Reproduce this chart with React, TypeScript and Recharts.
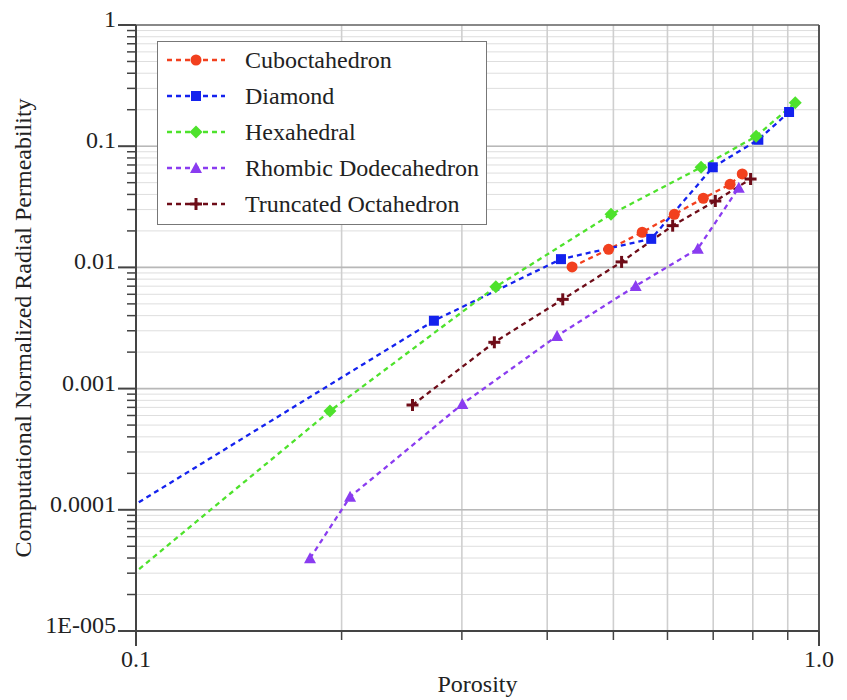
import React from "react";
import {
  LineChart,
  Line,
  XAxis,
  YAxis,
  CartesianGrid,
  ReferenceLine,
} from "recharts";

const FONT = '"Liberation Serif", "Times New Roman", serif';

// log axes: decade ticks carry labels, the rest are minor marks
const decades = [0.00001, 0.0001, 0.001, 0.01, 0.1, 1];
const decadeLabels = ["1E-005", "0.0001", "0.001", "0.01", "0.1", "1"];
const yTicks = decades
  .slice(0, -1)
  .flatMap((d) => [1, 2, 3, 4, 5, 6, 7, 8, 9].map((m) => +(m * d).toPrecision(3)))
  .concat([1]);
const xTicks = [0.1, 0.2, 0.3, 0.4, 0.5, 0.6, 0.7, 0.8, 0.9, 1.0];
const xTickLabels = ["0.1", "1.0"];

// porosity vs permeability for each unit cell
const cuboPorosity = [0.435, 0.492, 0.551, 0.614, 0.677, 0.741, 0.772];
const cuboPerm = [0.0101, 0.0141, 0.0195, 0.0274, 0.0372, 0.0485, 0.059];

const diamondPorosity = [0.08, 0.273, 0.419, 0.568, 0.699, 0.815, 0.904];
const diamondPerm = [0.0000515, 0.00363, 0.0117, 0.0172, 0.067, 0.113, 0.1915];

const hexaPorosity = [0.08, 0.1923, 0.3364, 0.496, 0.672, 0.809, 0.923];
const hexaPerm = [0.0000109, 0.000653, 0.00693, 0.0274, 0.067, 0.1207, 0.2286];

const rhombicPorosity = [0.1798, 0.2058, 0.3005, 0.4135, 0.539, 0.6646, 0.763];
const rhombicPerm = [0.0000398, 0.000128, 0.000746, 0.00272, 0.00703, 0.01426, 0.0455];

const truncPorosity = [0.254, 0.3347, 0.4215, 0.514, 0.6106, 0.705, 0.794];
const truncPerm = [0.000732, 0.00241, 0.00545, 0.0111, 0.0221, 0.0353, 0.0536];

const zip = (xs: number[], ys: number[]) => xs.map((x, i) => ({ x, y: ys[i] }));

type Shape = "circle" | "square" | "diamond" | "triangle" | "cross";

const series: { name: string; color: string; shape: Shape; data: { x: number; y: number }[] }[] = [
  { name: "Cuboctahedron", color: "#f2401e", shape: "circle", data: zip(cuboPorosity, cuboPerm) },
  { name: "Diamond", color: "#1422ee", shape: "square", data: zip(diamondPorosity, diamondPerm) },
  { name: "Hexahedral", color: "#4ee22c", shape: "diamond", data: zip(hexaPorosity, hexaPerm) },
  { name: "Rhombic Dodecahedron", color: "#8a3cf0", shape: "triangle", data: zip(rhombicPorosity, rhombicPerm) },
  { name: "Truncated Octahedron", color: "#6e0c18", shape: "cross", data: zip(truncPorosity, truncPerm) },
];

const Marker = ({ cx, cy, color, shape }: { cx: number; cy: number; color: string; shape: Shape }) => {
  switch (shape) {
    case "circle":
      return <circle cx={cx} cy={cy} r={5.5} fill={color} />;
    case "square":
      return <rect x={cx - 5} y={cy - 5} width={10} height={10} fill={color} />;
    case "diamond":
      return (
        <polygon
          points={`${cx},${cy - 6.5} ${cx + 6.5},${cy} ${cx},${cy + 6.5} ${cx - 6.5},${cy}`}
          fill={color}
        />
      );
    case "triangle":
      return (
        <polygon
          points={`${cx},${cy - 6} ${cx + 6},${cy + 5} ${cx - 6},${cy + 5}`}
          fill={color}
        />
      );
    default:
      return (
        <g stroke={color} strokeWidth={3}>
          <line x1={cx - 6} x2={cx + 6} y1={cy} y2={cy} />
          <line x1={cx} x2={cx} y1={cy - 6} y2={cy + 6} />
        </g>
      );
  }
};

const YTick = ({ x, y, payload }: any) => {
  const v = payload.value;
  const i = decades.findIndex((d) => Math.abs(d - v) / d < 1e-6);
  if (i < 0) {
    return <line x1={x - 9} x2={x} y1={y} y2={y} stroke="#444" strokeWidth={1.5} />;
  }
  return (
    <g>
      <line x1={x - 18} x2={x} y1={y} y2={y} stroke="#444" strokeWidth={2} />
      <text x={x - 20} y={y + 2} textAnchor="end" fontFamily={FONT} fontSize={24} fill="#222">
        {decadeLabels[i]}
      </text>
    </g>
  );
};

const XTick = ({ x, y, payload }: any) => {
  const v = payload.value;
  const end = v === 0.1 ? 0 : v === 1 ? 1 : -1;
  if (end < 0) {
    return <line x1={x} x2={x} y1={y} y2={y + 9} stroke="#444" strokeWidth={1.5} />;
  }
  return (
    <g>
      <line x1={x} x2={x} y1={y} y2={y + 15} stroke="#444" strokeWidth={2} />
      <text x={x} y={y + 36} textAnchor="middle" fontFamily={FONT} fontSize={24} fill="#222">
        {xTickLabels[end]}
      </text>
    </g>
  );
};

const YTitle = ({ viewBox }: any) => {
  const cx = viewBox.x + 31;
  const cy = viewBox.y + viewBox.height / 2;
  return (
    <text
      x={cx}
      y={cy}
      transform={`rotate(-90, ${cx}, ${cy})`}
      textAnchor="middle"
      fontFamily={FONT}
      fontSize={24}
      fill="#222"
    >
      Computational Normalized Radial Permeability
    </text>
  );
};

const XTitle = ({ viewBox }: any) => (
  <text
    x={viewBox.x + viewBox.width / 2}
    y={viewBox.y + 61}
    textAnchor="middle"
    fontFamily={FONT}
    fontSize={24}
    fill="#222"
  >
    Porosity
  </text>
);

const LegendBox = () => (
  <div
    style={{
      position: "absolute",
      left: 157,
      top: 41,
      width: 330,
      height: 184,
      boxSizing: "border-box",
      border: "1.5px solid #777",
      background: "#fff",
      fontFamily: FONT,
      fontSize: 24,
      color: "#222",
    }}
  >
    {series.map((s) => (
      <div key={s.name} style={{ height: 36, display: "flex", alignItems: "center" }}>
        <svg width={62} height={16} style={{ marginLeft: 7 }}>
          <line x1={2} x2={60} y1={8} y2={8} stroke={s.color} strokeWidth={2.3} strokeDasharray="5 4" />
          <Marker cx={31} cy={8} color={s.color} shape={s.shape} />
        </svg>
        <span style={{ marginLeft: 18 }}>{s.name}</span>
      </div>
    ))}
  </div>
);

export default function App() {
  return (
    <div style={{ position: "absolute", left: 0, top: 0, width: 847, height: 700, background: "#fff" }}>
      <LineChart width={847} height={700} margin={{ top: 25, right: 28, bottom: 0, left: 0 }}>
        <CartesianGrid horizontal={true} vertical={false} stroke="#dedede" strokeWidth={1} />
        <CartesianGrid horizontal={false} vertical={true} stroke="#cfcfcf" strokeWidth={1.6} />
        <XAxis
          dataKey="x"
          type="number"
          scale="log"
          domain={[0.1, 1]}
          allowDataOverflow
          ticks={xTicks}
          interval={0}
          tick={<XTick />}
          tickLine={false}
          tickSize={0}
          tickMargin={0}
          axisLine={{ stroke: "#444", strokeWidth: 2 }}
          height={69}
          label={<XTitle />}
        />
        <YAxis
          dataKey="y"
          type="number"
          scale="log"
          domain={[0.00001, 1]}
          allowDataOverflow
          ticks={yTicks}
          interval={0}
          tick={<YTick />}
          tickLine={false}
          tickSize={0}
          tickMargin={0}
          axisLine={{ stroke: "#444", strokeWidth: 2 }}
          width={136}
          label={<YTitle />}
        />
        {decades.slice(1, -1).map((d) => (
          <ReferenceLine key={d} y={d} stroke="#b8b8b8" strokeWidth={1.6} />
        ))}
        <ReferenceLine y={1} stroke="#666" strokeWidth={1.6} />
        <ReferenceLine x={1} stroke="#555" strokeWidth={2} />
        {series.map((s) => (
          <Line
            key={s.name}
            name={s.name}
            data={s.data}
            dataKey="y"
            type="linear"
            stroke={s.color}
            strokeWidth={2.3}
            strokeDasharray="5 4"
            dot={(p: any) => <Marker key={p.index} cx={p.cx} cy={p.cy} color={s.color} shape={s.shape} />}
            activeDot={false}
            isAnimationActive={false}
          />
        ))}
      </LineChart>
      <LegendBox />
    </div>
  );
}
